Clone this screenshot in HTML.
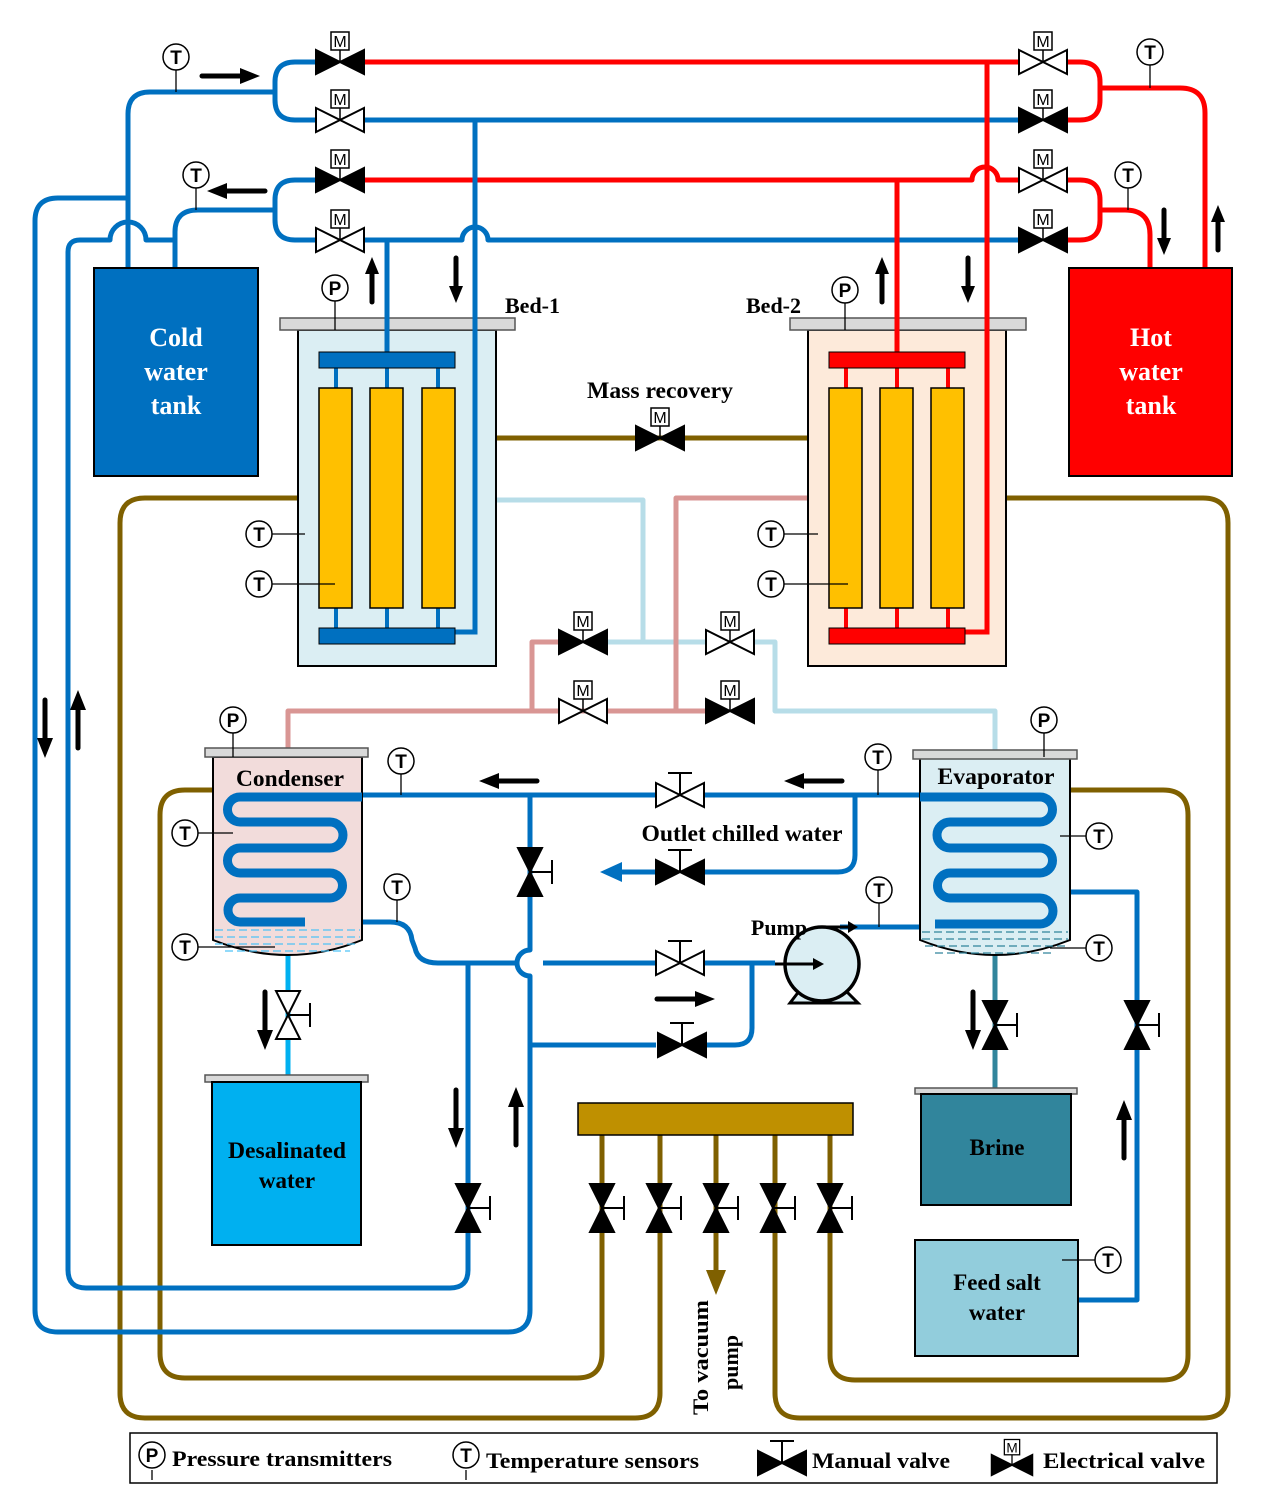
<!DOCTYPE html>
<html><head><meta charset="utf-8"><style>
html,body{margin:0;padding:0;background:#fff}
svg{display:block}
text{font-family:"Liberation Serif",serif;font-weight:bold}
.s{font-family:"Liberation Sans",sans-serif;font-weight:normal}
</style></head><body>
<svg width="1267" height="1512" viewBox="0 0 1267 1512" xmlns="http://www.w3.org/2000/svg">
<defs>
<g id="bt"><path d="M-24-12L0 0L-24 12Z M24-12L0 0L24 12Z" stroke="#000" stroke-width="2"/></g>
<g id="eF"><use href="#bt" fill="#000"/><line x1="0" y1="0" x2="0" y2="-12" stroke="#000" stroke-width="1.5"/><rect x="-9" y="-30" width="18" height="18" fill="#fff" stroke="#000" stroke-width="1.5"/><text x="0" y="-15" text-anchor="middle" class="s" font-size="16">M</text></g>
<g id="eO"><use href="#bt" fill="#fff"/><line x1="0" y1="0" x2="0" y2="-12" stroke="#000" stroke-width="1.5"/><rect x="-9" y="-30" width="18" height="18" fill="#fff" stroke="#000" stroke-width="1.5"/><text x="0" y="-15" text-anchor="middle" class="s" font-size="16">M</text></g>
<g id="mF"><use href="#bt" fill="#000"/><line x1="0" y1="0" x2="0" y2="-22" stroke="#000" stroke-width="2"/><line x1="-12" y1="-22" x2="12" y2="-22" stroke="#000" stroke-width="2"/></g>
<g id="mO"><use href="#bt" fill="#fff"/><line x1="0" y1="0" x2="0" y2="-22" stroke="#000" stroke-width="2"/><line x1="-12" y1="-22" x2="12" y2="-22" stroke="#000" stroke-width="2"/></g>
<g id="T"><circle r="13" fill="#fff" stroke="#000" stroke-width="1.5"/><text y="7" text-anchor="middle" class="s" font-size="19" style="font-weight:bold">T</text></g>
<g id="P"><circle r="13" fill="#fff" stroke="#000" stroke-width="1.5"/><text y="7" text-anchor="middle" class="s" font-size="19" style="font-weight:bold">P</text></g>
<g id="ar"><path d="M0 0H40" stroke="#000" stroke-width="5" stroke-linecap="round"/><path d="M38-8L58 0L38 8Z" fill="#000"/></g>
<g id="as"><path d="M0 0H30" stroke="#000" stroke-width="5" stroke-linecap="round"/><path d="M28-7L45 0L28 7Z" fill="#000"/></g>
</defs>

<g fill="none" stroke-width="5" stroke-linejoin="round">
<g stroke="#7f6000">
<path d="M298 498H145Q120 498 120 523V1393Q120 1418 145 1418H635Q660 1418 660 1393V1135"/>
<path d="M1006 498H1203Q1228 498 1228 523V1393Q1228 1418 1203 1418H800Q775 1418 775 1393V1135"/>
<path d="M213 790H185Q160 790 160 815V1353Q160 1378 185 1378H577Q602 1378 602 1353V1135"/>
<path d="M1070 790H1163Q1188 790 1188 815V1355Q1188 1380 1163 1380H855Q830 1380 830 1355V1135"/>
<path d="M496 438H808"/>
<path d="M716 1135V1275"/>
</g>
<g stroke="#b7dde8">
<path d="M496 500H643V642"/>
<path d="M606 642H706"/>
<path d="M754 642H775V711H995V755"/>
</g>
<g stroke="#d99694">
<path d="M808 498H676V711"/>
<path d="M560 642H532V711"/>
<path d="M288 750V711H706"/>
</g>
<g stroke="#0070c0">
<path d="M128 198H58Q35 198 35 221V1310Q35 1332 58 1332H508Q530 1332 530 1310V976"/>
<path d="M175 240H146A9 9 0 0 0 110 240H80Q68 240 68 252V1270Q68 1288 86 1288H450Q468 1288 468 1270V963"/>
<path d="M275 92H150Q128 92 128 114V268"/>
<path d="M275 210H198Q175 210 175 232V268"/>
<path d="M317 62H295Q275 62 275 82V100Q275 120 295 120H317"/>
<path d="M317 180H295Q275 180 275 200V220Q275 240 295 240H317"/>
<path d="M364 120H1020"/>
<path d="M364 240H462A13 13 0 0 1 488 240H1020"/>
<path d="M362 795H656M704 795H920"/>
<path d="M530 795V950A13 13 0 0 0 530 976V1045H656M705 1045H735Q752 1045 752 1028V963H775"/>
<path d="M855 795V855Q855 872 838 872H705M656 872H620"/>
<path d="M305 922H390Q410 922 412 940L415 948Q418 963 438 963H517M543 963H656M704 963H775"/>
<path d="M840 927H920"/>
<path d="M1070 892H1137V1300H1078"/>
</g>
<path d="M600 872L622 862V882Z" fill="#0070c0" stroke="none"/>
<g stroke="#ff0000">
<path d="M364 62H1020M1066 62H1080Q1100 62 1100 82V100Q1100 120 1080 120H1066"/>
<path d="M1100 88H1180Q1205 88 1205 113V268"/>
<path d="M364 180H972A13 13 0 0 1 998 180H1020M1066 180H1080Q1100 180 1100 200V220Q1100 240 1080 240H1066"/>
<path d="M1100 210H1125Q1150 210 1150 235V268"/>
</g>
<path d="M288 955V1082" stroke="#00b0f0"/>
<path d="M995 955V1088" stroke="#31859c"/>
</g>

<rect x="94" y="268" width="164" height="208" fill="#0070c0" stroke="#000" stroke-width="2"/>
<text x="176" y="346" fill="#fff" font-size="26" text-anchor="middle">Cold</text>
<text x="176" y="380" fill="#fff" font-size="26" text-anchor="middle">water</text>
<text x="176" y="414" fill="#fff" font-size="26" text-anchor="middle">tank</text>
<rect x="1069" y="268" width="163" height="208" fill="#ff0000" stroke="#000" stroke-width="2"/>
<text x="1151" y="346" fill="#fff" font-size="26" text-anchor="middle">Hot</text>
<text x="1151" y="380" fill="#fff" font-size="26" text-anchor="middle">water</text>
<text x="1151" y="414" fill="#fff" font-size="26" text-anchor="middle">tank</text>

<rect x="298" y="330" width="198" height="336" fill="#dbeef3" stroke="#000" stroke-width="2"/>
<rect x="280" y="318" width="235" height="12" fill="#d9d9d9" stroke="#555" stroke-width="1.5"/>
<path d="M475 120V632H455" stroke="#0070c0" stroke-width="5" fill="none"/>
<path d="M387 240V352" stroke="#0070c0" stroke-width="5"/>
<g stroke="#0070c0" stroke-width="4"><path d="M336 368V388M387 368V388M438 368V388M336 608V628M387 608V628M438 608V628"/></g>
<rect x="319" y="352" width="136" height="16" fill="#0070c0" stroke="#000" stroke-width="1"/>
<rect x="319" y="628" width="136" height="16" fill="#0070c0" stroke="#000" stroke-width="1"/>
<g fill="#ffc000" stroke="#000" stroke-width="1.5"><rect x="319" y="388" width="33" height="220"/><rect x="370" y="388" width="33" height="220"/><rect x="422" y="388" width="33" height="220"/></g>
<text x="505" y="313" font-size="22">Bed-1</text>
<rect x="808" y="330" width="198" height="336" fill="#fdeada" stroke="#000" stroke-width="2"/>
<rect x="790" y="318" width="236" height="12" fill="#d9d9d9" stroke="#555" stroke-width="1.5"/>
<path d="M987 62V632H965" stroke="#ff0000" stroke-width="5" fill="none"/>
<path d="M897 180V352" stroke="#ff0000" stroke-width="5"/>
<g stroke="#ff0000" stroke-width="4"><path d="M846 368V388M897 368V388M948 368V388M846 608V628M897 608V628M948 608V628"/></g>
<rect x="829" y="352" width="136" height="16" fill="#ff0000" stroke="#000" stroke-width="1"/>
<rect x="829" y="628" width="136" height="16" fill="#ff0000" stroke="#000" stroke-width="1"/>
<g fill="#ffc000" stroke="#000" stroke-width="1.5"><rect x="829" y="388" width="33" height="220"/><rect x="880" y="388" width="33" height="220"/><rect x="931" y="388" width="33" height="220"/></g>
<text x="746" y="313" font-size="22">Bed-2</text>
<text x="660" y="398" font-size="23" text-anchor="middle" textLength="146" lengthAdjust="spacingAndGlyphs">Mass recovery</text>

<path d="M213 757V940Q288 970 362 940V757Z" fill="#f2dcdb" stroke="#000" stroke-width="2"/>
<rect x="205" y="748" width="163" height="9" fill="#d9d9d9" stroke="#555" stroke-width="1.5"/>
<g stroke="#4fc3f7" stroke-width="1.2" stroke-dasharray="8 4"><path d="M215 930H360M215 937H360M215 944H358M225 951H350"/></g>
<path d="M362 797H240A12.5 12.5 0 0 0 240 822H330A13 13 0 0 1 330 848H240A12.5 12.5 0 0 0 240 873H330A12.5 12.5 0 0 1 330 898H240A12 12 0 0 0 240 922H305" fill="none" stroke="#0070c0" stroke-width="9"/>
<text x="290" y="786" font-size="23" text-anchor="middle" textLength="108" lengthAdjust="spacingAndGlyphs">Condenser</text>
<path d="M920 757V940Q995 970 1070 940V757Z" fill="#dbeef3" stroke="#000" stroke-width="2"/>
<rect x="913" y="750" width="164" height="9" fill="#d9d9d9" stroke="#555" stroke-width="1.5"/>
<g stroke="#31859c" stroke-width="1.2" stroke-dasharray="8 4"><path d="M922 932H1068M922 939H1068M925 946H1065M935 953H1055"/></g>
<path d="M920 797H1040A12.5 12.5 0 0 1 1040 822H950A13 13 0 0 0 950 848H1040A12.5 12.5 0 0 1 1040 873H950A12.5 12.5 0 0 0 950 898H1040A13 13 0 0 1 1040 924H935" fill="none" stroke="#0070c0" stroke-width="9"/>
<text x="996" y="784" font-size="23" text-anchor="middle" textLength="117" lengthAdjust="spacingAndGlyphs">Evaporator</text>
<text x="742" y="841" font-size="23" text-anchor="middle" textLength="201" lengthAdjust="spacingAndGlyphs">Outlet chilled water</text>
<path d="M790 1003L800 990H845L858 1003Z" fill="#dbeef3" stroke="#000" stroke-width="3"/>
<circle cx="822" cy="964" r="37" fill="#dbeef3" stroke="#000" stroke-width="3.5"/>
<path d="M820 927H850" stroke="#000" stroke-width="3"/><path d="M848 921L858 927L848 933Z"/>
<path d="M775 964H815" stroke="#000" stroke-width="3"/><path d="M813 958L824 964L813 970Z"/>
<text x="779" y="935" font-size="22" text-anchor="middle">Pump</text>

<rect x="205" y="1075" width="163" height="7" fill="#d9d9d9" stroke="#555" stroke-width="1.5"/>
<rect x="212" y="1082" width="149" height="163" fill="#00b0f0" stroke="#000" stroke-width="2"/>
<text x="287" y="1158" font-size="23" text-anchor="middle" textLength="118" lengthAdjust="spacingAndGlyphs">Desalinated</text>
<text x="287" y="1188" font-size="23" text-anchor="middle">water</text>
<rect x="915" y="1088" width="162" height="6" fill="#d9d9d9" stroke="#555" stroke-width="1.5"/>
<rect x="921" y="1094" width="150" height="111" fill="#31859c" stroke="#000" stroke-width="2"/>
<text x="997" y="1155" font-size="23" text-anchor="middle">Brine</text>
<rect x="915" y="1240" width="163" height="116" fill="#92cddc" stroke="#000" stroke-width="2"/>
<text x="997" y="1290" font-size="23" text-anchor="middle">Feed salt</text>
<text x="997" y="1320" font-size="23" text-anchor="middle">water</text>
<rect x="578" y="1103" width="275" height="32" fill="#bf9000" stroke="#000" stroke-width="1.5"/>
<path d="M706 1270H726L716 1295Z" fill="#7f6000"/>
<text transform="translate(708,1415) rotate(-90)" font-size="22" textLength="115" lengthAdjust="spacingAndGlyphs">To vacuum</text>
<text transform="translate(738,1390) rotate(-90)" font-size="22">pump</text>

<use href="#eF" x="340" y="62"/><use href="#eO" x="340" y="120"/>
<use href="#eF" x="340" y="180"/><use href="#eO" x="340" y="240"/>
<use href="#eO" x="1043" y="62"/><use href="#eF" x="1043" y="120"/>
<use href="#eO" x="1043" y="180"/><use href="#eF" x="1043" y="240"/>
<use href="#eF" x="660" y="438"/>
<use href="#eF" x="583" y="642"/><use href="#eO" x="730" y="642"/>
<use href="#eO" x="583" y="711"/><use href="#eF" x="730" y="711"/>
<use href="#mO" x="680" y="795"/><use href="#mF" x="680" y="872"/>
<use href="#mO" x="680" y="963"/><use href="#mF" x="682" y="1045"/>
<g transform="translate(530,872) rotate(90)"><use href="#mF"/></g>
<g transform="translate(288,1015) rotate(90)"><use href="#mO"/></g>
<g transform="translate(995,1025) rotate(90)"><use href="#mF"/></g>
<g transform="translate(1137,1025) rotate(90)"><use href="#mF"/></g>
<g transform="translate(468,1208) rotate(90)"><use href="#mF"/></g>
<g transform="translate(602,1208) rotate(90)"><use href="#mF"/></g>
<g transform="translate(659,1208) rotate(90)"><use href="#mF"/></g>
<g transform="translate(716,1208) rotate(90)"><use href="#mF"/></g>
<g transform="translate(773,1208) rotate(90)"><use href="#mF"/></g>
<g transform="translate(830,1208) rotate(90)"><use href="#mF"/></g>

<g stroke="#000" stroke-width="1.3">
<path d="M176 70V92M196 188V210M335 301V330M1150 65V88M1128 188V210M845 303V330M272 534H305M272 584H335M784 534H818M784 584H848M233 733V757M198 833H233M198 947H275M401 774V795M397 900V922M878 770V795M879 903V927M1044 733V757M1060 836H1086M1050 948H1086M1062 1260H1095"/>
</g>
<use href="#T" x="176" y="57"/><use href="#T" x="196" y="175"/><use href="#P" x="335" y="288"/>
<use href="#T" x="1150" y="52"/><use href="#T" x="1128" y="175"/><use href="#P" x="845" y="290"/>
<use href="#T" x="259" y="534"/><use href="#T" x="259" y="584"/><use href="#T" x="771" y="534"/><use href="#T" x="771" y="584"/>
<use href="#P" x="233" y="720"/><use href="#T" x="185" y="833"/><use href="#T" x="185" y="947"/>
<use href="#T" x="401" y="761"/><use href="#T" x="397" y="887"/><use href="#T" x="878" y="757"/><use href="#T" x="879" y="890"/>
<use href="#P" x="1044" y="720"/><use href="#T" x="1099" y="836"/><use href="#T" x="1099" y="948"/><use href="#T" x="1108" y="1260"/>

<use href="#ar" transform="translate(202,76)"/>
<use href="#ar" transform="translate(265,191) rotate(180)"/>
<use href="#as" transform="translate(372,302) rotate(-90)"/>
<use href="#as" transform="translate(456,258) rotate(90)"/>
<use href="#as" transform="translate(882,302) rotate(-90)"/>
<use href="#as" transform="translate(968,258) rotate(90)"/>
<use href="#as" transform="translate(1164,210) rotate(90)"/>
<use href="#as" transform="translate(1218,250) rotate(-90)"/>
<use href="#ar" transform="translate(45,700) rotate(90)"/>
<use href="#ar" transform="translate(78,748) rotate(-90)"/>
<use href="#ar" transform="translate(537,781) rotate(180)"/>
<use href="#ar" transform="translate(842,781) rotate(180)"/>
<use href="#ar" transform="translate(657,999)"/>
<use href="#ar" transform="translate(265,992) rotate(90)"/>
<use href="#ar" transform="translate(973,992) rotate(90)"/>
<use href="#ar" transform="translate(456,1090) rotate(90)"/>
<use href="#ar" transform="translate(516,1145) rotate(-90)"/>
<use href="#ar" transform="translate(1124,1158) rotate(-90)"/>

<rect x="130" y="1433" width="1087" height="50" fill="#fff" stroke="#000" stroke-width="1.5"/>
<path d="M152 1470V1480M466 1470V1480" stroke="#000" stroke-width="1.3"/>
<use href="#P" x="152" y="1455"/><text x="172" y="1466" font-size="22" textLength="220" lengthAdjust="spacingAndGlyphs">Pressure transmitters</text>
<use href="#T" x="466" y="1455"/><text x="486" y="1468" font-size="22" textLength="213" lengthAdjust="spacingAndGlyphs">Temperature sensors</text>
<use href="#mF" x="782" y="1463"/><text x="812" y="1468" font-size="22" textLength="138" lengthAdjust="spacingAndGlyphs">Manual valve</text>
<g transform="translate(1012,1465) scale(0.85)"><use href="#eF"/></g><text x="1043" y="1468" font-size="22" textLength="162" lengthAdjust="spacingAndGlyphs">Electrical  valve</text>
</svg>
</body></html>
